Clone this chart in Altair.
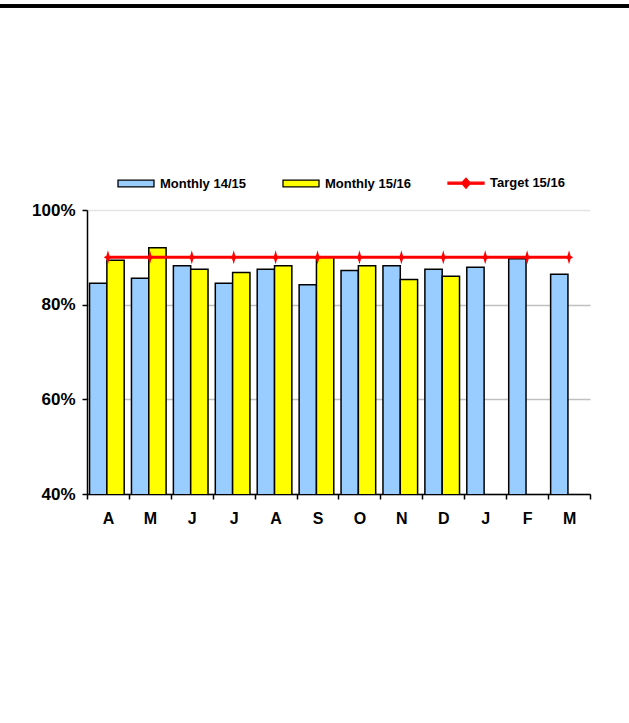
import altair as alt
import pandas as pd

months = ["Apr", "May", "Jun", "Jul", "Aug", "Sep", "Oct", "Nov", "Dec", "Jan", "Feb", "Mar"]
monthly_1415 = [84.5, 85.6, 88.2, 84.5, 87.5, 84.2, 87.2, 88.2, 87.5, 87.9, 89.7, 86.4]
monthly_1516 = [89.4, 92.0, 87.5, 86.8, 88.2, 90.0, 88.2, 85.3, 86.0]
target_1516 = [90, 90, 90, 90, 90, 90, 90, 90, 90, 90, 90, 90]
series_names = ["Monthly 14/15", "Monthly 15/16", "Target 15/16"]
y_ticks = [40, 60, 80, 100]

rows = []
for m, v in zip(months, monthly_1415):
    rows.append({"month": m, "series": series_names[0], "value": v})
for m, v in zip(months, monthly_1516):
    rows.append({"month": m, "series": series_names[1], "value": v})
bars_df = pd.DataFrame(rows)
target_df = pd.DataFrame({"month": months, "value": target_1516, "series": series_names[2]})
legend_df = pd.DataFrame({"series": series_names, "month": months[0], "value": target_1516[0]})

FONT = "Liberation Sans"
W, H = 503, 284
PAD_L, PAD_T = 87, 210

x_enc = alt.X(
    "month:N", sort=months, title=None,
    scale=alt.Scale(paddingInner=0, paddingOuter=0),
    axis=alt.Axis(
        labelExpr="substring(datum.label, 0, 1)", labelAngle=0,
        labelFont=FONT, labelFontSize=16, labelFontWeight="bold", labelColor="black",
        labelPadding=11, tickBand="extent", tickSize=5, tickColor="black", tickWidth=1.5,
        domainColor="black", domainWidth=1.5, grid=False,
    ),
)
y_enc = alt.Y(
    "value:Q", title=None,
    scale=alt.Scale(domain=[40, 100], nice=False, zero=False),
    axis=alt.Axis(
        values=y_ticks, labelExpr="datum.value + '%'",
        labelFont=FONT, labelFontSize=17, labelFontWeight="bold", labelColor="black",
        labelPadding=7, tickSize=5, tickColor="black", tickWidth=1.5,
        domainColor="black", domainWidth=1.5,
        grid=True, gridWidth=1.5,
        gridColor={"condition": {"test": "datum.value === 100", "value": "#e4e4e4"}, "value": "#c0c0c0"},
    ),
)

RECT = "M-1,-0.19H1V0.19H-1Z"
TGT = "M-1,-0.055H-0.2L0,-0.28L0.2,-0.055H1V0.055H0.2L0,0.28L-0.2,0.055H-1Z"
STAR = "M0,-1L0.22,-0.24L0.6,0L0.22,0.24L0,1L-0.22,0.24L-0.6,0L-0.22,-0.24Z"

color_scale = alt.Scale(domain=series_names, range=["#99ccff", "#ffff00", "#ff0000"])

leg = alt.Legend(
    title=None, orient="none", legendX=30, legendY=-46, direction="horizontal",
    symbolSize=1296, symbolStrokeWidth=1.3, symbolOpacity=1,
    labelFont=FONT, labelFontSize=13, labelFontWeight="bold", labelColor="black",
    labelOffset=5, columnPadding=34, padding=0,
)

bars = alt.Chart(bars_df).mark_bar(stroke="black", strokeWidth=1.5, clip=True).encode(
    x=x_enc,
    xOffset=alt.XOffset("series:N", sort=series_names[:2],
                        scale=alt.Scale(domain=series_names[:2], paddingOuter=0.21, paddingInner=0, align=0.35)),
    y=y_enc,
    color=alt.Color("series:N", scale=color_scale, legend=leg),
)

line = alt.Chart(target_df).mark_line(color="#ff0000", strokeWidth=3).encode(
    x=alt.X("month:N", sort=months),
    y=alt.Y("value:Q"),
)
pts = alt.Chart(target_df).mark_point(
    shape=STAR, size=196, filled=True, color="#ff0000", opacity=1
).encode(
    x=alt.X("month:N", sort=months),
    y=alt.Y("value:Q"),
)

legend_layer = alt.Chart(legend_df).mark_point(filled=True, opacity=0).encode(
    x=alt.X("month:N", sort=months),
    y=alt.Y("value:Q"),
    color=alt.Color("series:N", scale=color_scale, legend=leg),
    shape=alt.Shape("series:N", scale=alt.Scale(domain=series_names, range=[RECT, RECT, TGT]), legend=leg),
    stroke=alt.Stroke("series:N", scale=alt.Scale(domain=series_names, range=["#000000", "#000000", "#ff0000"]), legend=leg),
)

top_rule = alt.Chart(target_df).mark_rule(color="black", strokeWidth=2.6).encode(
    x=alt.value(-PAD_L), x2=alt.value(629 - PAD_L), y=alt.value(6 - PAD_T)
)

chart = alt.layer(bars, line, pts, legend_layer, top_rule).properties(
    width=W, height=H,
    autosize=alt.AutoSizeParams(type="none"),
    padding={"left": PAD_L, "top": PAD_T, "right": 629 - PAD_L - W, "bottom": 723 - PAD_T - H},
    background="white",
).configure_view(stroke=None)

chart.save("out.html", embed_options={"renderer": "svg", "actions": False})
